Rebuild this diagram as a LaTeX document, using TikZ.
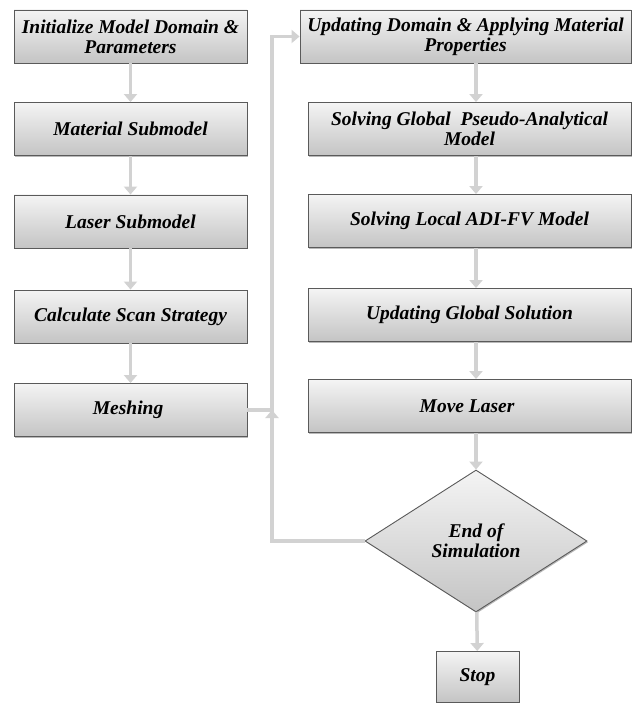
\documentclass[tikz,border=0pt]{standalone}
\usepackage{fontspec}
\setmainfont{Liberation Serif}
\usetikzlibrary{arrows.meta, shapes.geometric, shadows}
\definecolor{boxline}{HTML}{5A5A5A}
\definecolor{boxtop}{HTML}{F4F4F4}
\definecolor{boxbot}{HTML}{C4C4C4}
\definecolor{flowgray}{HTML}{D2D2D2}

\tikzset{
  stepbox/.style={draw=boxline, line width=0.9pt, top color=boxtop, bottom color=boxbot,
    minimum height=53pt, align=center, inner sep=1pt,
    drop shadow={shadow xshift=1.2pt, shadow yshift=-1.2pt, opacity=0.55},
    font=\bfseries\itshape\fontsize{19.5}{20}\selectfont},
  decide/.style={stepbox, diamond, minimum width=222pt, minimum height=142pt, inner sep=0pt},
  flow/.style={draw=flowgray, line width=3.5pt, -{Triangle[length=8pt, width=13pt]}}
}

\begin{document}
\begin{tikzpicture}[x=1pt, y=-1pt]
  \useasboundingbox (0,0) rectangle (632,703);

  % Left column
  \foreach \y/\name/\lbl in {
    36.5/init/{Initialize Model Domain \&\\Parameters},
    129/mat/{Material Submodel},
    221.5/laser/{Laser Submodel},
    316.5/scan/{Calculate Scan Strategy},
    410/mesh/{Meshing}
  } {
    \node[stepbox, minimum width=233pt] (\name) at (130.5, \y) {\lbl};
  }

  % Right column
  \node[stepbox, minimum width=331pt] (upd) at (465.5, 36.5)
    {Updating Domain \& Applying Material\\Properties};
  \foreach \y/\name/\lbl in {
    129/glob/{Solving Global\ \ Pseudo-Analytical\\Model},
    221/loc/{Solving Local ADI-FV Model},
    315/sol/{Updating Global Solution},
    406/move/{Move Laser}
  } {
    \node[stepbox, minimum width=323pt] (\name) at (469.5, \y) {\lbl};
  }

  \node[decide] (dia) at (476, 541) {End of\\Simulation};
  \node[stepbox, minimum width=83pt, minimum height=51pt] (stop) at (477.5, 677) {Stop};

  % Arrows
  \draw[flow] (init) -- (mat);
  \draw[flow] (mat) -- (laser);
  \draw[flow] (laser) -- (scan);
  \draw[flow] (scan) -- (mesh);
  \draw[flow] (upd.south -| dia) -- (glob.north -| dia);
  \draw[flow] (glob.south -| dia) -- (loc.north -| dia);
  \draw[flow] (loc.south -| dia) -- (sol.north -| dia);
  \draw[flow] (sol.south -| dia) -- (move.north -| dia);
  \draw[flow] (move.south -| dia) -- (dia.north);
  \draw[flow] (dia) -- (stop);

  % Loop back
  \coordinate (join) at (272, 410);
  \draw[flow] (dia.west) -| (join);
  \draw[flow] (mesh.east) -- (join) |- (upd.west);
\end{tikzpicture}
\end{document}
